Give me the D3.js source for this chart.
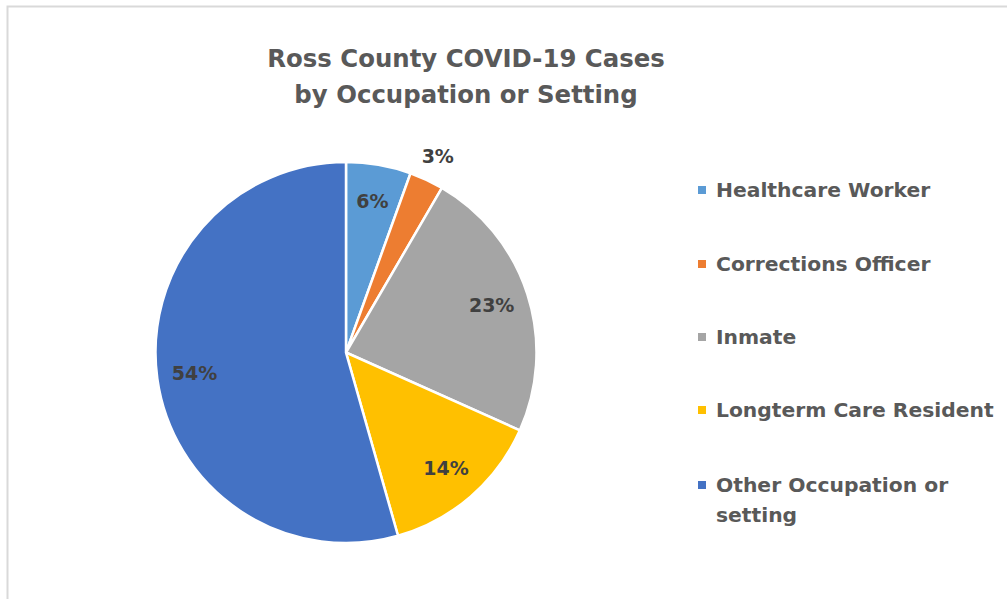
<!DOCTYPE html>
<html lang="en">
<head>
<meta charset="UTF-8">
<title>Ross County COVID-19 Cases</title>
<script src="https://cdn.jsdelivr.net/npm/d3@7/dist/d3.min.js"></script>
<style>
  body { margin: 0; background: #fff; }
  text { font-family: "DejaVu Sans", sans-serif; font-weight: bold; }
</style>
</head>
<body>
<div class="chart"></div>
<script>
// data (percent of cases)
let categories = ['Healthcare Worker', 'Corrections Officer', 'Inmate', 'Longterm Care Resident', 'Other Occupation or setting']
let values = [5.5, 2.9, 23.3, 13.9, 54.4]
let colors = ['#5B9BD5', '#ED7D31', '#A5A5A5', '#FFC000', '#4472C4']
let titleLines = ['Ross County COVID-19 Cases', 'by Occupation or Setting']

let width = 1007, height = 599
let cx = 346, cy = 352.5, radius = 190.5

let svg = d3.select('.chart').append('svg').attr('width', width).attr('height', height)

// chart area border (only left and top visible)
svg.append('rect').attr('x', 7.5).attr('y', 6.5).attr('width', 1100).attr('height', 700)
  .attr('fill', 'none').attr('stroke', '#d9d9d9').attr('stroke-width', 2)

// title
svg.append('text').attr('x', 466).attr('y', 67).attr('text-anchor', 'middle')
  .attr('fill', '#595959').style('font-size', '24.4px')
  .selectAll('tspan').data(titleLines).join('tspan')
  .attr('x', 466).attr('dy', (d, i) => i == 0 ? 0 : 36).text(d => d)

let pie = d3.pie().sort(null)
let arcs = pie(values)
let arc = d3.arc().innerRadius(0).outerRadius(radius)
let labelArc = d3.arc().innerRadius(153).outerRadius(153)
let outerLabelArc = d3.arc().innerRadius(217).outerRadius(217)

let g = svg.append('g').attr('transform', 'translate(' + cx + ',' + cy + ')')
g.selectAll('path').data(arcs).join('path')
  .attr('d', arc).attr('fill', (d, i) => colors[i])
  .attr('stroke', '#fff').attr('stroke-width', 2.5)

g.selectAll('text.lbl').data(arcs).join('text').attr('class', 'lbl')
  .attr('transform', d => 'translate(' + (d.data < 5 ? outerLabelArc : labelArc).centroid(d) + ')')
  .attr('text-anchor', 'middle').attr('dy', '0.35em')
  .attr('fill', '#404040').style('font-size', '19px')
  .text(d => Math.round(d.data) + '%')

// legend
let legendY = [190, 264, 337, 410, 485]
let lg = svg.append('g')
categories.forEach(function (c, i) {
  lg.append('rect').attr('x', 698).attr('y', legendY[i] - 4).attr('width', 8).attr('height', 8).attr('fill', colors[i])
  let t = lg.append('text').attr('x', 716).attr('y', legendY[i]).attr('dy', '0.35em')
    .attr('fill', '#595959').style('font-size', '20.3px')
  if (i == 4) {
    t.append('tspan').attr('x', 716).text('Other Occupation or')
    t.append('tspan').attr('x', 716).attr('dy', 30).text('setting')
  } else {
    t.text(c)
  }
})
</script>
</body>
</html>
